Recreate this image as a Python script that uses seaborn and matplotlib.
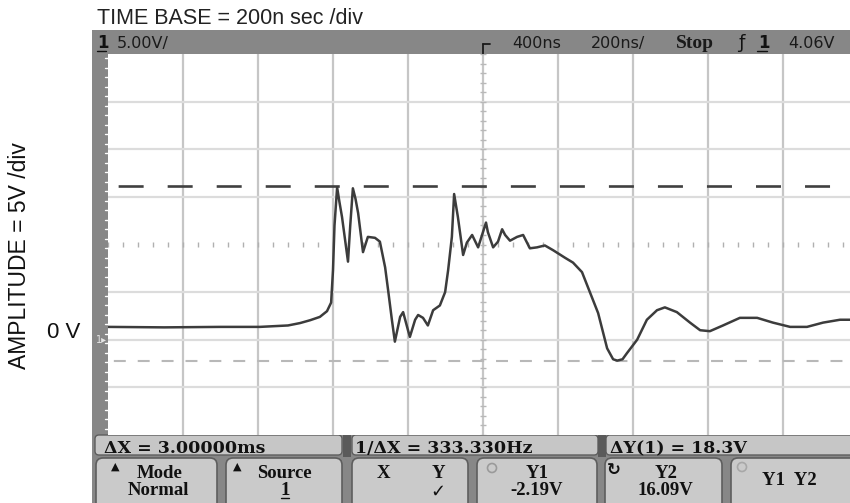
import matplotlib
matplotlib.use("Agg")
import matplotlib.pyplot as plt
import seaborn as sns
import pandas as pd
import numpy as np
from matplotlib.patches import Rectangle, FancyBboxPatch

# ---- captured waveform: time from left edge of screen (ns), voltage (V) ----
time_ns = [0, 150, 300, 405, 480, 512, 539, 565, 584, 595, 600, 604, 611, 617,
           624, 640, 646, 653, 660, 667, 680, 693, 712, 725, 739, 747, 757, 765,
           779, 787, 800, 805, 819, 827, 840, 853, 867, 885, 899, 907, 917, 923,
           933, 947, 957, 971, 987, 1008, 1013, 1027, 1040, 1051, 1059, 1072,
           1091, 1107, 1125, 1144, 1165, 1187, 1219, 1240, 1264, 1285, 1307,
           1331, 1347, 1358, 1372, 1384, 1411, 1437, 1464, 1485, 1517, 1552,
           1579, 1605, 1640, 1685, 1731, 1773, 1819, 1864, 1907, 1952, 1979, 2000]
volts = [1.35, 1.3, 1.35, 1.35, 1.5, 1.75, 2.05, 2.4, 3.0, 3.9, 7.3, 12.0, 16.0,
         14.5, 12.9, 8.2, 12.0, 15.9, 14.8, 13.3, 9.2, 10.8, 10.7, 10.3, 7.6, 5.2,
         2.1, -0.2, 2.4, 2.9, 1.0, 0.3, 2.1, 2.6, 2.3, 1.5, 3.1, 3.6, 5.0, 7.3,
         10.8, 15.3, 12.9, 8.9, 10.2, 11.0, 9.7, 12.3, 11.3, 9.7, 10.3, 11.6,
         11.0, 10.4, 10.8, 11.0, 9.6, 9.7, 9.9, 9.4, 8.6, 8.1, 7.1, 5.0, 2.8,
         -0.9, -2.05, -2.19, -2.05, -1.4, 0.0, 2.1, 3.1, 3.4, 2.9, 1.8, 1.0, 0.9,
         1.5, 2.3, 2.3, 1.8, 1.35, 1.35, 1.8, 2.1, 2.1, 2.1]

# ---- scope settings ----
ns_per_div = 200
volts_per_div = 5
n_xdiv, n_ydiv = 10, 8
center_volts = 10
cursor_y1 = -2.19
cursor_y2 = 16.09

# ---- readout labels ----
time_base_label = "TIME BASE = 200n sec /div"
amplitude_label = "AMPLITUDE = 5V /div"
zero_label = "0 V"
status_items = [("5.00V/", 117), ("400ns", 512), ("200ns/", 591), ("4.06V", 788)]
measure_items = [("ΔX = 3.00000ms", 104), ("1/ΔX = 333.330Hz", 355), ("ΔY(1) = 18.3V", 610)]

W, H = 850, 503
sns.set_style("white")
plt.rcParams["font.family"] = ["DejaVu Sans"]
plt.rcParams["lines.scale_dashes"] = False

fig = plt.figure(figsize=(W / 100, H / 100), dpi=100)
fig.patch.set_facecolor("white")

# pixel-space overlay for the instrument frame and readouts
bg = fig.add_axes([0, 0, 1, 1], zorder=0)
bg.set_xlim(0, W)
bg.set_ylim(H, 0)
bg.axis("off")

frame_gray = "#878787"
bg.add_patch(Rectangle((92, 30), W - 92, H - 30, color=frame_gray, lw=0))

# graticule area
gx0, gy0, gx1, gy1 = 108, 54, 858, 435
ax = fig.add_axes([gx0 / W, 1 - gy1 / H, (gx1 - gx0) / W, (gy1 - gy0) / H], zorder=1)
ax.set_facecolor("white")
ax.set_xlim(0, n_xdiv * ns_per_div)
ax.set_ylim(center_volts - n_ydiv / 2 * volts_per_div, center_volts + n_ydiv / 2 * volts_per_div)
for s in ax.spines.values():
    s.set_visible(False)
ax.set_xticks([])
ax.set_yticks([])

for k in range(1, n_xdiv):
    ax.axvline(k * ns_per_div, color="#c6c6c6", lw=1.6, zorder=1)
for k in range(1, n_ydiv):
    v = center_volts - n_ydiv / 2 * volts_per_div + k * volts_per_div
    if abs(v - center_volts) > 1e-9:
        ax.axhline(v, color="#dcdcdc", lw=1.6, zorder=1)

# minor ticks along the centre axes
tx = np.arange(0, n_xdiv * ns_per_div + 1, ns_per_div / 5)
ax.vlines(tx, center_volts - 0.3, center_volts + 0.3, color="#b0b0b0", lw=1.0, zorder=1)
ty = np.arange(center_volts - 20, center_volts + 20.1, volts_per_div / 5)
xc = n_xdiv / 2 * ns_per_div
ax.hlines(ty, xc - 8, xc + 8, color="#b8b8b8", lw=1.0, zorder=1)

# cursors
ax.axhline(cursor_y2, color="#404040", lw=1.9, linestyle=(28, (18, 17.3)), zorder=2)
ax.axhline(cursor_y1, color="#b8b8b8", lw=1.5, linestyle=(13, (8.6, 8.6)), zorder=2)

# waveform
df = pd.DataFrame({"time_ns": time_ns, "volts": volts})
sns.lineplot(data=df, x="time_ns", y="volts", ax=ax, color="#3c3c3c", lw=1.8,
             estimator=None, sort=False, zorder=3, legend=False)
ax.set_xlabel("")
ax.set_ylabel("")

# left rail tick marks
for yy in np.arange(gy0 + 4, gy1, 9.5):
    bg.plot([105, 108], [yy, yy], color="white", lw=1.0)
bg.text(96, 340, "1▸", color="#e6e6e6", fontsize=7, va="center", ha="left")

# trigger position marker
bg.plot([483, 483], [44, 54], color="#1a1a1a", lw=1.3)
bg.plot([483, 490], [44, 44], color="#1a1a1a", lw=1.3)

# top status line
bg.text(97, 43, "1", fontsize=12, fontweight="bold", va="center", ha="left", color="#111")
bg.plot([97, 106], [51, 51], color="#111", lw=1)
for txt, x in status_items:
    bg.text(x, 43, txt, fontsize=11.5, va="center", ha="left", color="#1a1a1a")
bg.text(676, 43, "Stop", fontsize=14, family="Liberation Serif", fontweight="bold",
        va="center", ha="left", color="#1a1a1a")
bg.text(738, 43, "ƒ", fontsize=13, va="center", ha="left", color="#111")
bg.text(758, 43, "1", fontsize=12, fontweight="bold", va="center", ha="left", color="#111")
bg.plot([757, 767], [51, 51], color="#111", lw=1)

# outside labels
bg.text(97, 24, time_base_label, fontsize=15.5, family="Liberation Sans",
        va="baseline", ha="left", color="#222")
bg.text(20, 256, amplitude_label, fontsize=16.5, family="Liberation Sans",
        rotation=90, va="center", ha="center", color="#111")
bg.text(47, 333, zero_label, fontsize=16, family="Liberation Sans",
        va="center", ha="left", color="#111")

# measurement strip
box_fill = "#c6c6c6"
edge = "#5e5e5e"
for x0, x1 in [(95, 342), (352, 598), (606, 860)]:
    bg.add_patch(FancyBboxPatch((x0, 435), x1 - x0, 20, boxstyle="round,pad=0,rounding_size=4",
                                fc=box_fill, ec=edge, lw=1.0))
bg.add_patch(Rectangle((343, 433), 8, 24, color="#5a5a5a", lw=0))
bg.add_patch(Rectangle((598, 433), 8, 24, color="#5a5a5a", lw=0))
for txt, x in measure_items:
    bg.text(x, 453, txt, fontsize=12.5, family="DejaVu Serif", fontweight="bold",
            va="baseline", ha="left", color="#111")

# softkeys
keys = [(96, 217), (226, 342), (352, 468), (477, 597), (605, 722), (731, 860)]
for x0, x1 in keys:
    bg.add_patch(FancyBboxPatch((x0, 458), x1 - x0, 52, boxstyle="round,pad=0,rounding_size=7",
                                fc="#cacaca", ec=edge, lw=1.2))
kf = dict(family="Liberation Serif", fontweight="bold", fontsize=13.5, color="#111", ha="center")
bg.text(115, 467, "▲", fontsize=8, ha="center", va="center", color="#111")
bg.text(160, 478, "Mode", va="baseline", **kf)
bg.text(158, 495, "Normal", va="baseline", **kf)
bg.text(237, 467, "▲", fontsize=8, ha="center", va="center", color="#111")
bg.text(284, 478, "Source", va="baseline", **kf)
bg.text(285, 495, "1", va="baseline", **kf)
bg.plot([281, 289], [498, 498], color="#111", lw=1)
bg.text(383, 478, "X", va="baseline", **kf)
bg.text(438, 478, "Y", va="baseline", **kf)
bg.text(438, 492, "✓", fontsize=13, ha="center", va="center", color="#111")
bg.add_patch(plt.Circle((492, 468), 4.5, fill=False, ec="#9a9a9a", lw=1.2))
bg.text(537, 478, "Y1", va="baseline", **kf)
bg.text(537, 495, "-2.19V", va="baseline", **kf)
bg.text(614, 470, "↻", fontsize=12, ha="center", va="center", color="#111", fontweight="bold")
bg.text(666, 478, "Y2", va="baseline", **kf)
bg.text(665, 495, "16.09V", va="baseline", **kf)
bg.add_patch(plt.Circle((742, 467), 4.5, fill=False, ec="#a8a8a8", lw=1.2))
bg.text(789, 485, "Y1  Y2", va="baseline", **kf)

fig.savefig("out.png", dpi=100, facecolor="white")
